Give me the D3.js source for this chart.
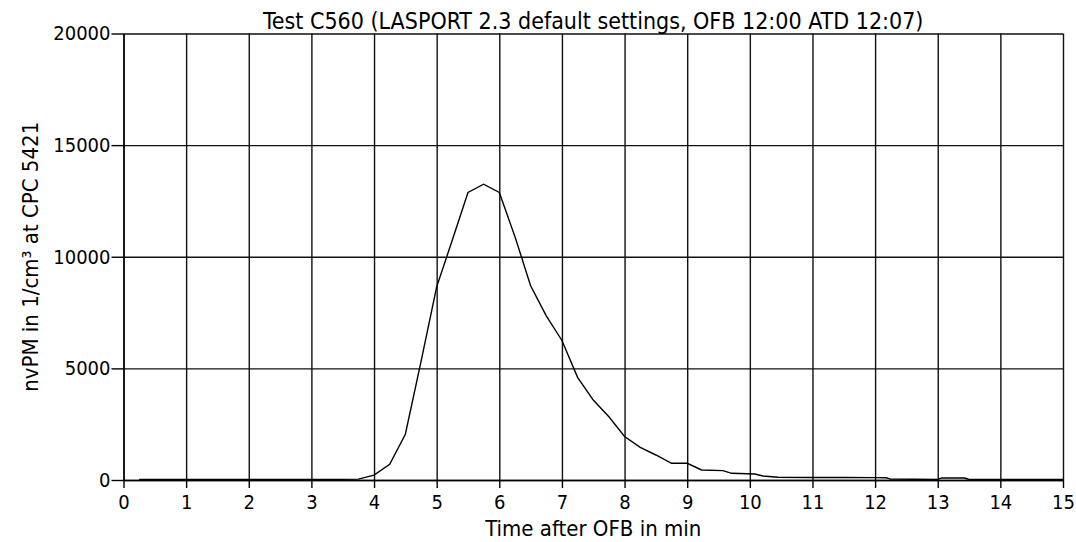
<!DOCTYPE html>
<html>
<head>
<meta charset="utf-8">
<script src="https://cdn.jsdelivr.net/npm/d3@7"></script>
<style>
  body { margin: 0; background: #fff; }
  svg { display: block; }
  text { font-family: "DejaVu Sans Condensed", "DejaVu Sans", sans-serif; font-stretch: condensed; fill: #000; }
  .axis path, .axis line { stroke: #000; }
  .grid line { stroke: #111; stroke-width: 1.4; }
  .grid path { stroke: none; }
</style>
</head>
<body>
<svg id="svg1" width="1076" height="542"></svg>
<script>
var width = 1076;
var height = 542;

var marginLeft = 123.5;
var marginTop = 33.5;
var marginRight = 13;
var marginBottom = 62;

var titleText = "Test C560 (LASPORT 2.3 default settings, OFB 12:00 ATD 12:07)";
var xLabel = "Time after OFB in min";
var yLabel = "nvPM in 1/cm\u00b3 at CPC 5421";

var xTicks = [0, 1, 2, 3, 4, 5, 6, 7, 8, 9, 10, 11, 12, 13, 14, 15];
var yTicks = [0, 5000, 10000, 15000, 20000];

// time in min after OFB
var times = [0.25, 0.5, 0.75, 1, 1.25, 1.5, 1.75, 2, 2.25, 2.5, 2.75, 3, 3.25, 3.5, 3.75,
             4, 4.25, 4.5, 4.75, 5, 5.25, 5.5, 5.75, 6, 6.25, 6.5, 6.75, 7, 7.25, 7.5,
             7.75, 8, 8.25, 8.5, 8.75, 9, 9.23, 9.57, 9.71, 10.08, 10.21, 10.45, 11, 11.5,
             12, 12.18, 12.25, 12.6, 13, 13.06, 13.43, 13.5, 14, 14.5, 15];
// nvPM in 1/cm3
var nvpm = [30, 30, 30, 30, 30, 30, 30, 30, 30, 30, 30, 30, 30, 30, 40,
            220, 700, 2050, 5300, 8650, 10750, 12880, 13250, 12880, 10900, 8700, 7350, 6250, 4600, 3580,
            2830, 1950, 1460, 1120, 750, 750, 450, 420, 300, 270, 180, 120, 115, 110,
            105, 100, 40, 35, 30, 90, 90, 25, 20, 20, 20];

var svg = d3.select("#svg1")
              .append("g")
              .attr("transform", "translate(" + marginLeft + "," + marginTop + ")");

var plotW = width - marginLeft - marginRight;
var plotH = height - marginTop - marginBottom;

var scaleX = d3.scaleLinear().range([0, plotW]).domain([0, 15]);
var scaleY = d3.scaleLinear().range([plotH, 0]).domain([0, 20000]);

// grid
svg.append("g")
    .attr("class", "grid")
    .call(d3.axisBottom(scaleX).tickValues(xTicks).tickSize(plotH).tickFormat(""));

svg.append("g")
    .attr("class", "grid")
    .call(d3.axisLeft(scaleY).tickValues(yTicks).tickSize(-plotW).tickFormat(""));

// axes with labels
var xAxis = svg.append("g")
    .attr("class", "axis")
    .attr("transform", "translate(0," + plotH + ")")
    .call(d3.axisBottom(scaleX).tickValues(xTicks).tickSize(8).tickSizeOuter(0).tickPadding(7));
xAxis.select(".domain").attr("stroke-width", 1.4);
xAxis.selectAll("line").attr("stroke-width", 1.4);
xAxis.selectAll("text").style("font-size", "20px");

var yAxis = svg.append("g")
    .attr("class", "axis")
    .call(d3.axisLeft(scaleY).tickValues(yTicks).tickSize(12).tickSizeOuter(0).tickPadding(1).tickFormat(d3.format("d")));
yAxis.select(".domain").attr("stroke-width", 1.4);
yAxis.selectAll("line").attr("stroke-width", 1.4);
yAxis.selectAll("text").style("font-size", "20px");

// curve
var data = times.map(function(t, i) { return { t: t, v: nvpm[i] }; });

svg.append("path")
    .datum(data)
    .attr("fill", "none")
    .attr("stroke", "#000")
    .attr("stroke-width", 1.4)
    .attr("d", d3.line()
        .x(function(d) { return scaleX(d.t); })
        .y(function(d) { return scaleY(d.v); }));

// titles
svg.append("text")
    .attr("x", plotW / 2)
    .attr("y", -5)
    .attr("text-anchor", "middle")
    .style("font-size", "23px")
    .text(titleText);

svg.append("text")
    .attr("x", plotW / 2)
    .attr("y", plotH + 56)
    .attr("text-anchor", "middle")
    .style("font-size", "22px")
    .text(xLabel);

svg.append("text")
    .attr("transform", "translate(" + (-85.5) + "," + (plotH / 2) + ") rotate(-90)")
    .attr("text-anchor", "middle")
    .style("font-size", "22px")
    .text(yLabel);
</script>
</body>
</html>
